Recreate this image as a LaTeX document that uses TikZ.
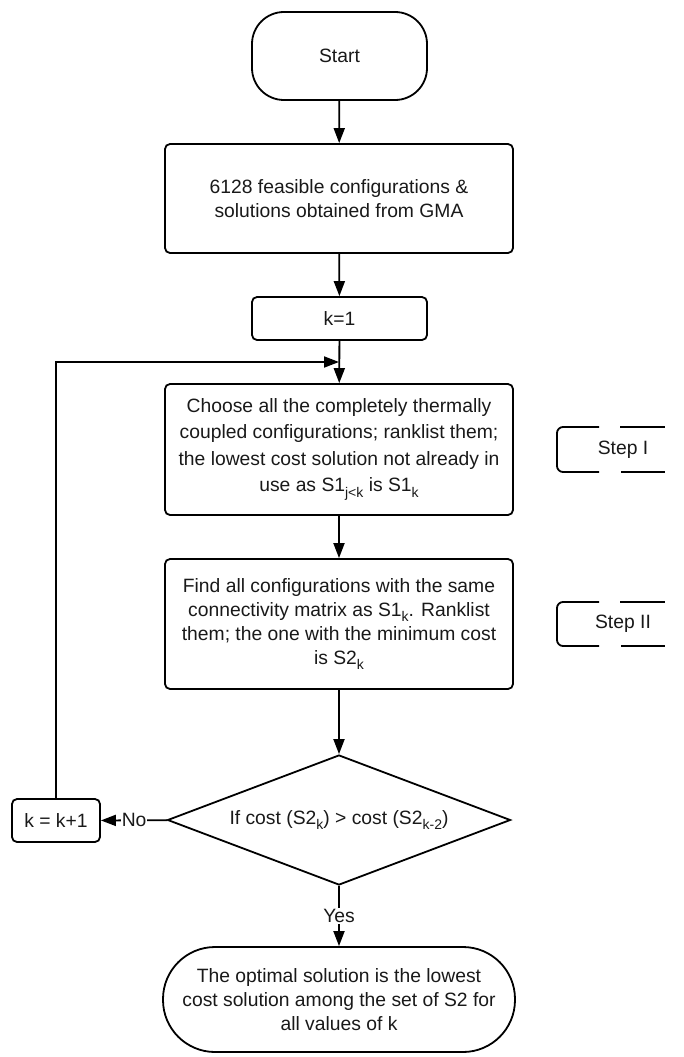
\documentclass[tikz,border=0pt]{standalone}
\usepackage{fontspec}
\setmainfont{Liberation Sans}
\usetikzlibrary{arrows.meta,shapes.geometric}
% lowered small text for subscripts
\newcommand\lsub[1]{\raisebox{-0.3em}{\fontsize{14}{14}\selectfont #1}}
\begin{document}
\begin{tikzpicture}[x=1pt,y=-1pt,
  every node/.style={font=\fontsize{19.3}{24}\selectfont, inner sep=0pt, text=black!90},
  flow/.style={line width=1.8pt},
  arrow/.style={flow,-{Triangle[length=15pt,width=11pt]}},
  procbox/.style={draw, line width=1.8pt, rounded corners=5pt, align=center},
  term/.style={draw, line width=1.8pt, align=center},
  decision/.style={draw, diamond, aspect=2.64, line width=1.8pt, align=center},
  lbl/.style={fill=white, inner sep=1pt}]
\useasboundingbox (0,0) rectangle (683,1057);

% flow nodes
\node[term, rounded corners=32pt, minimum width=175, minimum height=88] (start) at (339.5,56) {Start};
\node[procbox, minimum width=348, minimum height=109] (b1) at (339,198.5)
  {6128 feasible configurations \&\\solutions obtained from GMA};
\node[procbox, minimum width=175, minimum height=43] (k1) at (339.5,318.5) {k=1};
\node[procbox, minimum width=348, minimum height=131, font=\fontsize{19.3}{26.5}\selectfont] (b2) at (339,449.5)
  {Choose all the completely thermally\\coupled configurations; ranklist them;\\the lowest cost solution not already in\\use as S1\lsub{j<k} is S1\lsub{k}};
\node[procbox, minimum width=348, minimum height=130] (b3) at (339,624)
  {Find all configurations with the same\\connectivity matrix as S1\lsub{k}. Ranklist\\them; the one with the minimum cost\\is S2\lsub{k}};
\node[decision, minimum width=343, minimum height=130] (dec) at (339,820)
  {If cost (S2\lsub{k}) > cost (S2\lsub{k-2})};
\node[procbox, minimum width=88, minimum height=43] (kk) at (56,820.5) {k = k+1};
\node[term, rounded corners=52pt, minimum width=352, minimum height=105] (end) at (339,999.5)
  {The optimal solution is the lowest\\cost solution among the set of S2 for\\all values of k};

\coordinate (join) at (339,362);

% connectors
\draw[arrow] (start) -- (b1);
\draw[arrow] (b1) -- (k1);
\draw[arrow] (k1) -- (b2);
\draw[arrow] (b2) -- (b3);
\draw[arrow] (b3) -- (dec);
\draw[arrow] (dec) -- node[lbl] {Yes} (end);
\draw[arrow] (dec) -- node[lbl] {No} (kk);
\draw[arrow] (kk) |- (join);

% side annotations
\node (stepone) at (623,449.5) {Step I};
\draw[flow, rounded corners=6pt] (599,427) -- (557,427) -- (557,472) -- (599,472);
\draw[flow] (620,427) -- (665,427) (621,472) -- (665,472);

\node (steptwo) at (623,624) {Step II};
\draw[flow, rounded corners=6pt] (599,602) -- (557,602) -- (557,646) -- (599,646);
\draw[flow] (620,602) -- (665,602) (621,646) -- (665,646);
\end{tikzpicture}
\end{document}
